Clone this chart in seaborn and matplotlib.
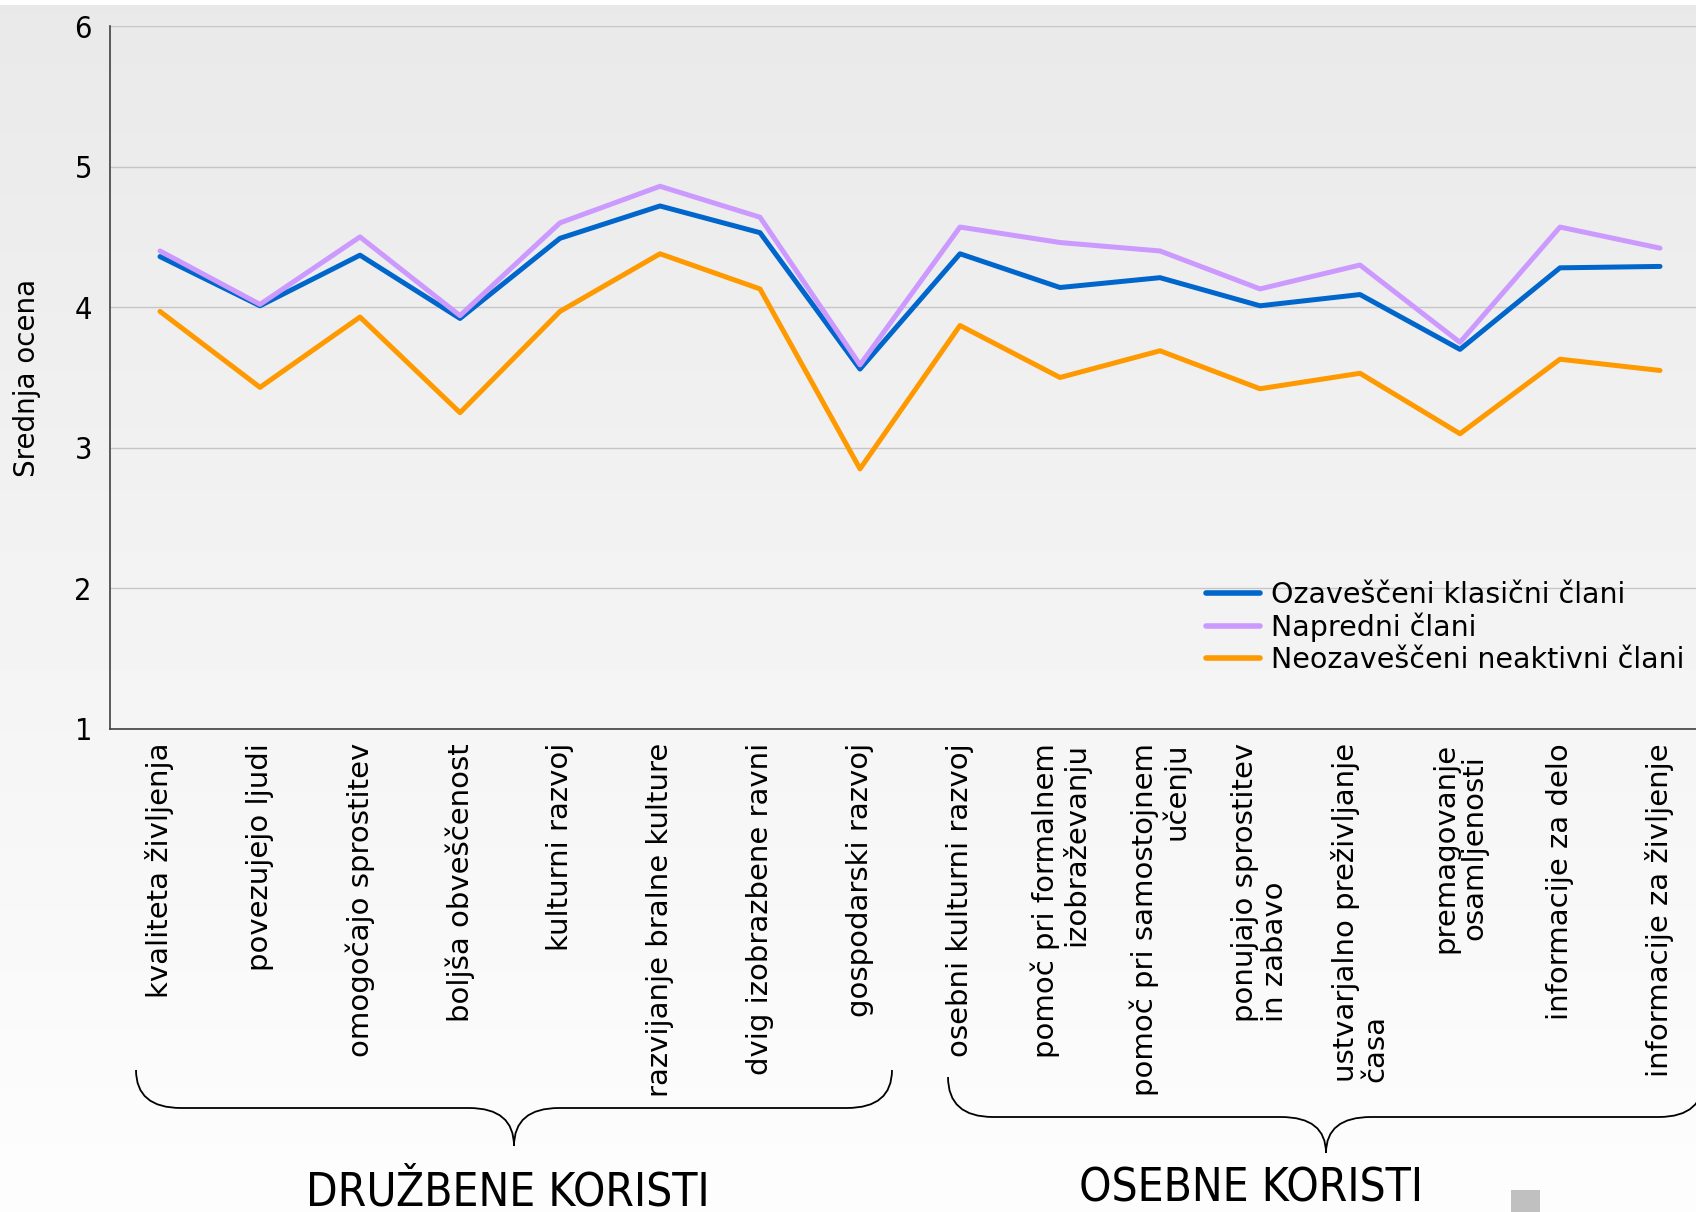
import matplotlib
matplotlib.use("Agg")
import matplotlib.pyplot as plt
import matplotlib.font_manager as fm
from matplotlib.path import Path
from matplotlib.patches import PathPatch, Rectangle
import numpy as np
import pandas as pd
import seaborn as sns

categories = [
    "kvaliteta življenja",
    "povezujejo ljudi",
    "omogočajo sprostitev",
    "boljša obveščenost",
    "kulturni razvoj",
    "razvijanje bralne kulture",
    "dvig izobrazbene ravni",
    "gospodarski razvoj",
    "osebni kulturni razvoj",
    "pomoč pri formalnem\nizobraževanju",
    "pomoč pri samostojnem\nučenju",
    "ponujajo sprostitev\nin zabavo",
    "ustvarjalno preživljanje\nčasa",
    "premagovanje\nosamljenosti",
    "informacije za delo",
    "informacije za življenje",
]
label_align = ["center"] * 9 + ["right", "right", "left", "left", "center", "center", "center"]

series_names = ["Ozaveščeni klasični člani", "Napredni člani", "Neozaveščeni neaktivni člani"]
ozavesceni = [4.36, 4.01, 4.37, 3.92, 4.49, 4.72, 4.53, 3.56, 4.38, 4.14, 4.21, 4.01, 4.09, 3.70, 4.28, 4.29]
napredni = [4.40, 4.02, 4.50, 3.94, 4.60, 4.86, 4.64, 3.59, 4.57, 4.46, 4.40, 4.13, 4.30, 3.75, 4.57, 4.42]
neozavesceni = [3.97, 3.43, 3.93, 3.25, 3.97, 4.38, 4.13, 2.85, 3.87, 3.50, 3.69, 3.42, 3.53, 3.10, 3.63, 3.55]
colors = ["#0066CC", "#CC99FF", "#FF9900"]

groups = ["DRUŽBENE KORISTI", "OSEBNE KORISTI"]
group_spans = [(0, 7), (8, 15)]

W, H = 1696, 1212

# look for a condensed sans for the numbers and group titles
cond = None
for f in fm.fontManager.ttflist:
    n = f.name.lower()
    if ("narrow" in n or "condensed" in n or f.stretch in ("condensed", "semi-condensed")) \
            and "mono" not in n and "serif" not in n and f.style == "normal" \
            and f.weight in (400, "normal", "regular"):
        cond = f
        break


def cond_font(size):
    if cond is not None:
        return dict(fontproperties=fm.FontProperties(fname=cond.fname, size=size))
    return dict(family="DejaVu Sans", fontsize=size * 0.83)


sns.set_style("white")
plt.rcParams["font.family"] = ["DejaVu Sans"]
plt.rcParams["text.color"] = "black"
plt.rcParams["axes.labelcolor"] = "black"
plt.rcParams["xtick.labelcolor"] = "black"
plt.rcParams["ytick.labelcolor"] = "black"

df = pd.DataFrame({
    "idx": np.tile(np.arange(len(categories)), 3),
    "value": ozavesceni + napredni + neozavesceni,
    "series": np.repeat(series_names, len(categories)),
})

fig = plt.figure(figsize=(W / 100, H / 100), dpi=100)
fig.patch.set_facecolor("white")

# background gradient
bg = fig.add_axes([0, 0, 1, 1 - 5 / H], zorder=-10)
grad = np.linspace(233, 253, 256).reshape(-1, 1) / 255.0
bg.imshow(np.repeat(grad, 2, axis=1), cmap="gray", vmin=0, vmax=1, aspect="auto",
          extent=[0, 1, 0, 1], origin="upper")
bg.axis("off")

ax_l, ax_r, ax_t, ax_b = 110, 1710, 26, 729
ax = fig.add_axes([ax_l / W, 1 - ax_b / H, (ax_r - ax_l) / W, (ax_b - ax_t) / H])
ax.set_facecolor("none")

sns.lineplot(data=df, x="idx", y="value", hue="series", palette=colors,
             hue_order=series_names, linewidth=3.6, sort=False, ax=ax)

ax.set_xlim(-0.5, len(categories) - 0.5)
ax.set_ylim(1, 6)
ax.set_yticks([1, 2, 3, 4, 5, 6])
ytl = ax.set_yticklabels(["1", "2", "3", "4", "5", "6"])
for t in ytl:
    if cond is not None:
        t.set_fontproperties(fm.FontProperties(fname=cond.fname, size=22))
    else:
        t.set_fontsize(18)
ax.grid(axis="y", color="#c6c6c6", linewidth=1)
ax.set_axisbelow(True)

ax.set_xticks(np.arange(len(categories)))
ax.set_xticklabels(categories, rotation=90, fontsize=21, family="DejaVu Sans",
                   va="top", ha="center", linespacing=1.05)
for t, a in zip(ax.get_xticklabels(), label_align):
    t.set_multialignment(a)
ax.set_xticks(np.arange(-0.5, len(categories), 1), minor=True)
ax.tick_params(axis="x", which="major", length=0, pad=10)
ax.tick_params(axis="x", which="minor", length=5, width=1, color="#404040", direction="out")
ax.tick_params(axis="y", length=7, width=1, color="#404040", direction="out", pad=6)

for s in ["top", "right"]:
    ax.spines[s].set_visible(False)
for s in ["left", "bottom"]:
    ax.spines[s].set_color("#404040")
    ax.spines[s].set_linewidth(1.2)

ax.set_xlabel("")
ax.set_ylabel("Srednja ocena", fontsize=20, family="DejaVu Sans", labelpad=24)

handles, labels = ax.get_legend_handles_labels()
leg = ax.legend(handles, labels, loc="upper left", bbox_to_anchor=(1206 / W, 1 - 581 / H),
                bbox_transform=fig.transFigure, frameon=False, fontsize=20.5,
                handlelength=1.9, handletextpad=0.4, labelspacing=0.13,
                borderpad=0, borderaxespad=0, labelcolor="black")
for line in leg.get_lines():
    line.set_linewidth(4)


def to_px(i):
    return ax_l + (i + 0.5) * (ax_r - ax_l) / len(categories)


def brace(x0, x1, y_top, y_mid, y_tip):
    xm = (x0 + x1) / 2
    r = 45
    verts = [(x0, y_top), (x0, y_mid), (x0 + r, y_mid), (xm - r, y_mid),
             (xm, y_mid), (xm, y_tip), (xm, y_mid), (xm + r, y_mid),
             (x1 - r, y_mid), (x1, y_mid), (x1, y_top)]
    codes = [Path.MOVETO, Path.CURVE3, Path.CURVE3, Path.LINETO,
             Path.CURVE3, Path.CURVE3, Path.CURVE3, Path.CURVE3,
             Path.LINETO, Path.CURVE3, Path.CURVE3]
    verts = [(x / W, 1 - y / H) for x, y in verts]
    fig.add_artist(PathPatch(Path(verts, codes), transform=fig.transFigure,
                             facecolor="none", edgecolor="black", linewidth=1.3))
    return xm


brace_y = [(1070, 1108, 1146), (1077, 1117, 1153)]
brace_x = [(-24, 32), (-12, 44)]
title_dx = [-6, -75]
title_base = [1205, 1201]
for name, (i0, i1), (yt, ym, yp), (dx0, dx1), tdx, yb in zip(
        groups, group_spans, brace_y, brace_x, title_dx, title_base):
    xm = brace(to_px(i0) + dx0, to_px(i1) + dx1, yt, ym, yp)
    fig.text((xm + tdx) / W, 1 - yb / H, name, ha="center", va="baseline",
             color="black", **cond_font(33))

fig.add_artist(Rectangle((1511 / W, 0), 29 / W, 22 / H, transform=fig.transFigure,
                         facecolor="#c0c0c0", edgecolor="none"))

fig.savefig("out.png", dpi=100)
